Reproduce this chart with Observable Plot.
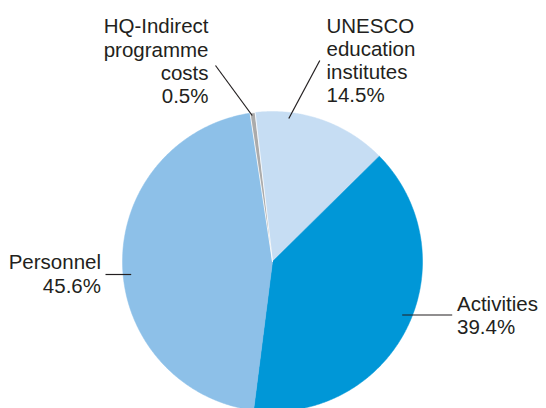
<!DOCTYPE html>
<html>
<head>
<meta charset="utf-8">
<script src="https://cdn.jsdelivr.net/npm/d3@7"></script>
<script src="https://cdn.jsdelivr.net/npm/@observablehq/plot@0.6"></script>
<style>
  html, body { margin: 0; padding: 0; background: #fff; }
  #chart svg { display: block; background: #fff; }
</style>
</head>
<body>
<div id="chart"></div>
<script>
// ---- Data ----
const categories = ["HQ-Indirect programme costs", "UNESCO education institutes", "Activities", "Personnel"];
const shares = [0.5, 14.5, 39.4, 45.6];
const labelNames = ["HQ-Indirect\nprogramme\ncosts", "UNESCO\neducation\ninstitutes", "Activities", "Personnel"];

// ---- Style / layout ----
const colors = ["#ababab", "#c6ddf3", "#0097d7", "#8dc0e8"];
const pie = {cx: 272, cy: 261, r: 150, startDeg: -8.6};
const labelLayout = [
  {x: 208, y: 16.2, anchor: "end",   lx1: 215,   ly1: 65,    lx2: 251.7, ly2: 115},
  {x: 326, y: 15.5, anchor: "start", lx1: 319.3, ly1: 60,    lx2: 288.3, ly2: 118},
  {x: 456.5, y: 293.5, anchor: "start", lx1: 401.7, ly1: 314.5, lx2: 451.7, ly2: 314.5},
  {x: 100.5, y: 252.2, anchor: "end", lx1: 105,   ly1: 274,   lx2: 130.7, ly2: 274}
];

// ---- Build slice polygons from the shares ----
const total = d3.sum(shares);
const points = [];
let acc = 0;
categories.forEach((cat, i) => {
  const a0 = (pie.startDeg + acc / total * 360) * Math.PI / 180;
  acc += shares[i];
  const a1 = (pie.startDeg + acc / total * 360) * Math.PI / 180;
  points.push({cat, i, x: pie.cx, y: pie.cy});
  const n = Math.max(2, Math.ceil((a1 - a0) / (0.4 * Math.PI / 180)));
  for (let k = 0; k <= n; k++) {
    const a = a0 + (a1 - a0) * k / n;
    points.push({cat, i, x: pie.cx + pie.r * Math.sin(a), y: pie.cy - pie.r * Math.cos(a)});
  }
});

const labels = categories.map((cat, i) => ({
  cat,
  text: labelNames[i] + "\n" + shares[i].toFixed(1) + "%",
  ...labelLayout[i]
}));

const font = "'Liberation Sans', Arial, Helvetica, sans-serif";
const textOpts = (anchor) => ({
  x: "x", y: "y", text: "text",
  textAnchor: anchor, lineAnchor: "top",
  fontSize: 20.5, lineHeight: 1.137,
  fill: "#231f20", fontFamily: font
});

const chart = Plot.plot({
  width: 546,
  height: 408,
  margin: 0,
  x: {domain: [0, 546], range: [0, 546], axis: null},
  y: {domain: [0, 408], range: [0, 408], axis: null},
  color: {type: "identity"},
  style: {background: "#fff", fontFamily: font},
  marks: [
    Plot.line(points.filter(d => d.i !== 0), {
      x: "x", y: "y", z: "cat",
      fill: d => colors[d.i], stroke: d => colors[d.i], strokeWidth: 0.5,
      curve: "linear-closed"
    }),
    Plot.line(points.filter(d => d.i === 0), {
      x: "x", y: "y", z: "cat",
      fill: d => colors[d.i], stroke: "#ffffff", strokeWidth: 0.8,
      curve: "linear-closed"
    }),
    Plot.link(labels, {
      x1: "lx1", y1: "ly1", x2: "lx2", y2: "ly2",
      stroke: "#231f20", strokeWidth: 1.2
    }),
    Plot.text(labels.filter(d => d.anchor === "end"), textOpts("end")),
    Plot.text(labels.filter(d => d.anchor === "start"), textOpts("start"))
  ]
});

document.getElementById("chart").appendChild(chart);
</script>
</body>
</html>
